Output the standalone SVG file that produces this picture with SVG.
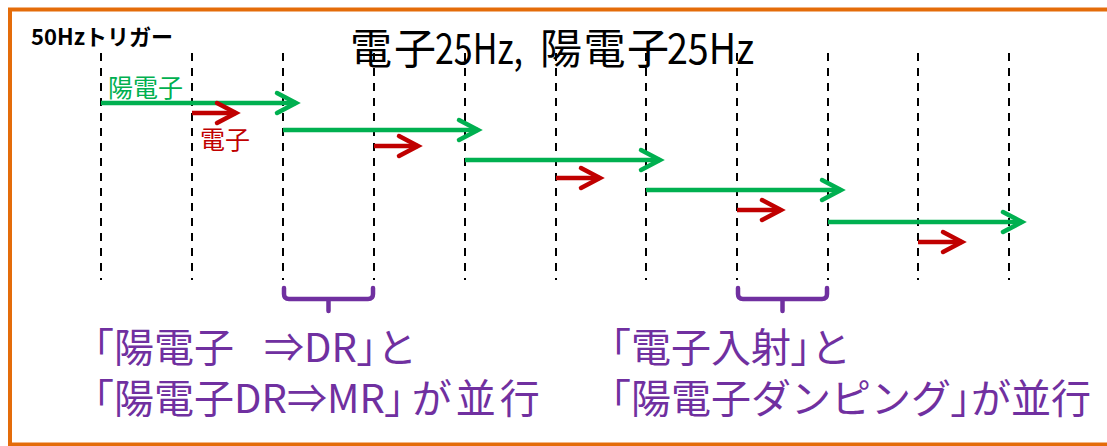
<svg xmlns="http://www.w3.org/2000/svg" width="1107" height="446" viewBox="0 0 1107 446">
<style>
.grid{stroke:#000;stroke-width:2;stroke-dasharray:8 7;fill:none}
.pos{stroke:#00B050;stroke-width:4.5;fill:none}
.ele{stroke:#C00000;stroke-width:4.5;fill:none}
.brace{stroke:#7030A0;stroke-width:4.5;fill:none;stroke-linecap:round;stroke-linejoin:round}
.jp{font-family:"Noto Sans CJK JP","Noto Sans",sans-serif}
.title{font-size:42px;fill:#000}
.note{font-size:40px;fill:#7030A0}
.p{font-feature-settings:"palt"}
</style>
<defs>
<marker id="hg" markerUnits="userSpaceOnUse" markerWidth="40" markerHeight="40" viewBox="-30 -20 40 40" refX="0" refY="0" orient="auto" overflow="visible">
<path d="M-19,-10 L0,0 L-19,10" fill="none" stroke="#00B050" stroke-width="4.5" stroke-linecap="round"/>
</marker>
<marker id="hr" markerUnits="userSpaceOnUse" markerWidth="40" markerHeight="40" viewBox="-30 -20 40 40" refX="0" refY="0" orient="auto" overflow="visible">
<path d="M-19,-10 L0,0 L-19,10" fill="none" stroke="#C00000" stroke-width="4.5" stroke-linecap="round"/>
</marker>
</defs>
<rect x="10" y="9.5" width="1110" height="435" fill="#fff" stroke="#E46C0A" stroke-width="4"/>
<g id="grid">
<line class="grid" x1="101" y1="53" x2="101" y2="280"/>
<line class="grid" x1="192" y1="53" x2="192" y2="280"/>
<line class="grid" x1="283" y1="53" x2="283" y2="280"/>
<line class="grid" x1="374" y1="53" x2="374" y2="280"/>
<line class="grid" x1="465" y1="53" x2="465" y2="280"/>
<line class="grid" x1="556" y1="53" x2="556" y2="280"/>
<line class="grid" x1="646" y1="53" x2="646" y2="280"/>
<line class="grid" x1="737" y1="53" x2="737" y2="280"/>
<line class="grid" x1="828" y1="53" x2="828" y2="280"/>
<line class="grid" x1="918" y1="53" x2="918" y2="280"/>
<line class="grid" x1="1009" y1="53" x2="1009" y2="280"/>
</g>
<g id="connectors">
<line class="pos" x1="101" y1="103" x2="296" y2="103" marker-end="url(#hg)"/>
<line class="pos" x1="283" y1="130" x2="478" y2="130" marker-end="url(#hg)"/>
<line class="pos" x1="465" y1="160" x2="660" y2="160" marker-end="url(#hg)"/>
<line class="pos" x1="646" y1="190" x2="841" y2="190" marker-end="url(#hg)"/>
<line class="pos" x1="828" y1="222" x2="1022" y2="222" marker-end="url(#hg)"/>
<line class="ele" x1="192" y1="113" x2="236" y2="113" marker-end="url(#hr)"/>
<line class="ele" x1="374" y1="146" x2="418" y2="146" marker-end="url(#hr)"/>
<line class="ele" x1="556" y1="178" x2="600" y2="178" marker-end="url(#hr)"/>
<line class="ele" x1="737" y1="210" x2="781" y2="210" marker-end="url(#hr)"/>
<line class="ele" x1="918" y1="242" x2="962" y2="242" marker-end="url(#hr)"/>
</g>
<g id="trigger"><text class="jp" x="31" y="45" font-size="22" font-weight="bold" fill="#000" textLength="142" lengthAdjust="spacingAndGlyphs">50Hzトリガー</text></g>
<g id="title">
<text class="jp title" x="350" y="64" letter-spacing="2">電子</text>
<text class="jp title" x="435" y="64" textLength="88" lengthAdjust="spacingAndGlyphs">25Hz,</text>
<text class="jp title" x="540" y="64" letter-spacing="1.5">陽電子</text>
<text class="jp title" x="667" y="64" textLength="87" lengthAdjust="spacingAndGlyphs">25Hz</text>
</g>
<g id="label-positron"><text class="jp" x="108" y="97" font-size="25" fill="#00B050">陽電子</text></g>
<g id="label-electron"><text class="jp" x="200" y="149" font-size="25" fill="#C00000">電子</text></g>
<g id="brace-left"><path class="brace" d="M284,288 V294 Q284,299 289,299 H368 Q373,299 373,294 V288 M328.5,299 V311"/></g>
<g id="brace-right"><path class="brace" d="M738,288 V294 Q738,299 743,299 H822 Q827,299 827,294 V288 M782.5,299 V311"/></g>
<g id="note-left">
<text class="jp note" x="74" y="362">「陽電子<tspan dx="30">⇒DR</tspan><tspan class="p">」</tspan>と</text>
<text class="jp note" x="74" y="413">「陽電子DR⇒MR<tspan class="p">」</tspan><tspan dx="7" letter-spacing="4">が並</tspan>行</text>
</g>
<g id="note-right">
<text class="jp note" x="591" y="362">「電子入射<tspan class="p">」</tspan>と</text>
<text class="jp note" x="591" y="413">「陽電子ダンピング<tspan class="p">」</tspan>が並行</text>
</g>
</svg>
